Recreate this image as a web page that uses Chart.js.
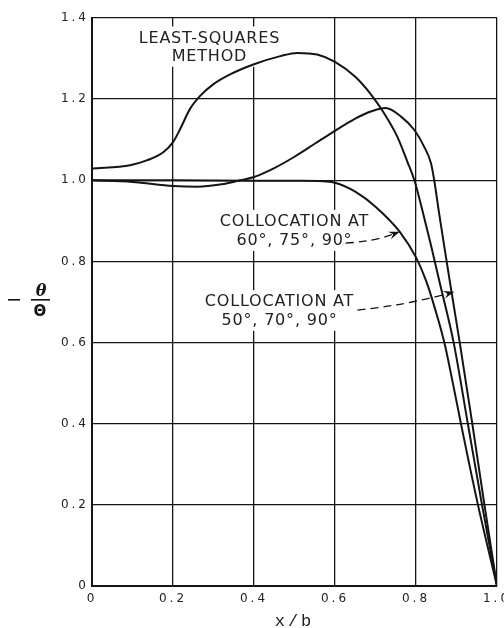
<!DOCTYPE html>
<html><head><meta charset="utf-8">
<script src="https://cdn.jsdelivr.net/npm/chart.js@4/dist/chart.umd.min.js"></script>
<style>html,body{margin:0;padding:0;background:#fff}#wrap{width:504px;height:628px;position:relative}</style>
</head><body><div id="wrap"><canvas id="c"></canvas></div>
<script>
// ---- data ----
const xLeastSquares = [0, 0.094, 0.135, 0.176, 0.2, 0.218, 0.242, 0.267, 0.3, 0.341, 0.4, 0.465, 0.507, 0.556, 0.6, 0.65, 0.69, 0.72, 0.754, 0.779, 0.796, 0.816, 0.837, 0.857, 0.893, 0.928, 0.963, 1.0];
const yLeastSquares = [1.029, 1.037, 1.049, 1.069, 1.094, 1.127, 1.176, 1.208, 1.237, 1.261, 1.286, 1.306, 1.314, 1.31, 1.292, 1.255, 1.21, 1.167, 1.107, 1.045, 1.0, 0.925, 0.84, 0.754, 0.6, 0.4, 0.2, 0];

const xColloc507090 = [0, 0.1, 0.2, 0.26, 0.32, 0.366, 0.4, 0.45, 0.5, 0.55, 0.6, 0.65, 0.69, 0.725, 0.763, 0.796, 0.82, 0.837, 0.845, 0.857, 0.87, 0.883, 0.908, 0.939, 0.969, 1.0];
const yColloc507090 = [1.0, 0.996, 0.986, 0.984, 0.99, 1.0, 1.008, 1.03, 1.058, 1.09, 1.122, 1.152, 1.17, 1.178, 1.157, 1.124, 1.083, 1.042, 1.0, 0.919, 0.836, 0.754, 0.6, 0.4, 0.2, 0];

const xColloc607590 = [0, 0.2, 0.4, 0.52, 0.56, 0.6, 0.65, 0.7, 0.76, 0.8, 0.825, 0.848, 0.87, 0.891, 0.911, 0.953, 1.0];
const yColloc607590 = [1.0, 1.0, 0.999, 0.999, 0.998, 0.994, 0.972, 0.935, 0.873, 0.81, 0.752, 0.68, 0.6, 0.5, 0.4, 0.2, 0];

const xTickLabels = ['0', '0.2', '0.4', '0.6', '0.8', '1.0'];
const yTickLabels = ['0', '0.2', '0.4', '0.6', '0.8', '1.0', '1.2', '1.4'];

// annotation texts and their anchor values (data units)
const noteLeastSquares = ['LEAST-SQUARES', 'METHOD'];
const noteLeastSquaresAt = [0.29, 1.352, 1.307];
const noteColloc1 = ['COLLOCATION AT', '60°, 75°, 90°'];
const noteColloc1At = [0.50, 0.90, 0.853];
const noteColloc2 = ['COLLOCATION AT', '50°, 70°, 90°'];
const noteColloc2At = [0.463, 0.702, 0.656];
const arrow1 = [0.626, 0.845, 0.76, 0.873];
const arrow2 = [0.655, 0.68, 0.895, 0.725];

const INK = '#141414';
function toPts(xs, ys) { return xs.map((x, i) => ({x: x, y: ys[i]})); }

const notesPlugin = {
  id: 'notes',
  beforeDraw(chart) { chart.ctx.letterSpacing = '3px'; },
  beforeDatasetsDraw(chart) {
    const ctx = chart.ctx, xs = chart.scales.x, ys = chart.scales.y;
    const notes = [[noteLeastSquares, noteLeastSquaresAt], [noteColloc1, noteColloc1At], [noteColloc2, noteColloc2At]];
    ctx.save();
    ctx.letterSpacing = '0.8px';
    ctx.font = '16px "DejaVu Sans"';
    ctx.textAlign = 'center';
    ctx.textBaseline = 'middle';
    notes.forEach(([lines, at]) => {
      const cx = xs.getPixelForValue(at[0]);
      let w = 0;
      lines.forEach(l => { w = Math.max(w, ctx.measureText(l).width); });
      const y0 = ys.getPixelForValue(at[1]), y1 = ys.getPixelForValue(at[lines.length]);
      ctx.fillStyle = '#fff';
      ctx.fillRect(cx - w / 2 - 4, y0 - 11, w + 8, (y1 - y0) + 22);
      ctx.fillStyle = '#222';
      lines.forEach((l, i) => ctx.fillText(l, cx, ys.getPixelForValue(at[i + 1]) + 1));
    });
    ctx.restore();
  },
  afterDatasetsDraw(chart) {
    const ctx = chart.ctx, xs = chart.scales.x, ys = chart.scales.y;
    ctx.save();
    ctx.letterSpacing = '0px';
    [arrow1, arrow2].forEach(a => {
      const x0 = xs.getPixelForValue(a[0]), y0 = ys.getPixelForValue(a[1]);
      const x1 = xs.getPixelForValue(a[2]), y1 = ys.getPixelForValue(a[3]);
      const dx = x1 - x0, dy = y1 - y0, len = Math.hypot(dx, dy);
      const cx = (x0 + x1) / 2 + (-dy / len) * 4, cy = (y0 + y1) / 2 + (dx / len) * 4;
      const tl = Math.hypot(x1 - cx, y1 - cy);
      ctx.strokeStyle = INK; ctx.lineWidth = 1.3;
      ctx.setLineDash([8, 5]);
      ctx.beginPath(); ctx.moveTo(x0, y0); ctx.quadraticCurveTo(cx, cy, x1 - 6 * (x1 - cx) / tl, y1 - 6 * (y1 - cy) / tl); ctx.stroke();
      ctx.setLineDash([]);
      const ang = Math.atan2(y1 - cy, x1 - cx);
      ctx.fillStyle = INK;
      ctx.beginPath();
      ctx.moveTo(x1, y1);
      ctx.lineTo(x1 - 11 * Math.cos(ang) + 4 * Math.sin(ang), y1 - 11 * Math.sin(ang) - 4 * Math.cos(ang));
      ctx.lineTo(x1 - 7 * Math.cos(ang), y1 - 7 * Math.sin(ang));
      ctx.lineTo(x1 - 11 * Math.cos(ang) - 4 * Math.sin(ang), y1 - 11 * Math.sin(ang) + 4 * Math.cos(ang));
      ctx.closePath(); ctx.fill();
    });
    // y-axis label  -  theta / Theta
    const area = chart.chartArea;
    const my = (area.top + area.bottom) / 2 - 3;
    ctx.fillStyle = INK;
    ctx.fillRect(8, my, 12, 1.6);
    ctx.fillRect(31, my, 19, 1.6);
    ctx.textAlign = 'center'; ctx.textBaseline = 'alphabetic';
    ctx.font = 'bold italic 16px "DejaVu Serif"';
    ctx.fillText('θ', 41, my - 3);
    ctx.font = 'bold 15px "DejaVu Sans"';
    ctx.fillText('Θ', 40, my + 17);
    ctx.restore();
  },
  afterDraw(chart) { chart.ctx.letterSpacing = '0px'; }
};

const lineStyle = {showLine: true, pointRadius: 0, borderColor: INK, borderWidth: 2, cubicInterpolationMode: 'monotone', fill: false};

new Chart(document.getElementById('c'), {
  type: 'scatter',
  data: {
    datasets: [
      Object.assign({label: 'Least-squares method', data: toPts(xLeastSquares, yLeastSquares)}, lineStyle),
      Object.assign({label: 'Collocation at 50°, 70°, 90°', data: toPts(xColloc507090, yColloc507090)}, lineStyle),
      Object.assign({label: 'Collocation at 60°, 75°, 90°', data: toPts(xColloc607590, yColloc607590)}, lineStyle)
    ]
  },
  options: {
    responsive: true, maintainAspectRatio: false, animation: false,
    layout: {padding: {top: 18, right: 7, left: 0, bottom: 0}},
    plugins: {legend: {display: false}, tooltip: {enabled: false}},
    scales: {
      x: {
        type: 'linear', min: 0, max: 1,
        grid: {color: INK, lineWidth: 1.3, drawTicks: false},
        border: {color: INK, width: 2},
        ticks: {stepSize: 0.2, padding: 6, color: '#222', font: {family: '"DejaVu Sans"', size: 12},
                callback: (v, i) => xTickLabels[i], maxRotation: 0, autoSkip: false},
        title: {display: true, text: 'x/b', color: '#222', font: {family: '"Liberation Mono"', size: 17, lineHeight: 0.8}, padding: {top: 0, bottom: 0}},
        afterFit: s => { s.height = 42; s.paddingRight = 0; s.paddingLeft = 0; }
      },
      y: {
        type: 'linear', min: 0, max: 1.4,
        grid: {color: INK, lineWidth: 1.3, drawTicks: false},
        border: {color: INK, width: 2},
        ticks: {stepSize: 0.2, padding: 3, color: '#222', font: {family: '"DejaVu Sans"', size: 12},
                callback: (v, i) => yTickLabels[i], autoSkip: false},
        afterFit: s => { s.width = 92; }
      }
    }
  },
  plugins: [notesPlugin]
});
</script></body></html>
